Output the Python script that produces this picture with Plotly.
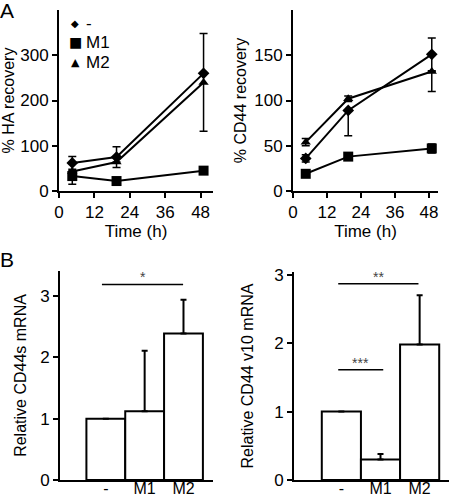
import plotly.graph_objects as go

# ---------------- data ----------------
time_h = [4.5, 19.5, 49]

ha_ctrl = [62, 75, 260]
ha_ctrl_hi = [14, 23, 0]
ha_ctrl_lo = [14, 23, 0]
ha_m1 = [33, 22, 45]
ha_m1_hi = [12, 0, 0]
ha_m1_lo = [18, 0, 0]
ha_m2 = [43, 64, 240]
ha_m2_hi = [0, 0, 108]
ha_m2_lo = [0, 0, 108]

cd_ctrl = [36, 89, 151]
cd_ctrl_hi = [4, 0, 18]
cd_ctrl_lo = [4, 28, 18]
cd_m1 = [19, 38, 47]
cd_m1_hi = [0, 3, 5]
cd_m1_lo = [0, 3, 5]
cd_m2 = [54, 102, 132]
cd_m2_hi = [4, 3, 0]
cd_m2_lo = [4, 3, 22]

groups = ["-", "M1", "M2"]
cd44s_mrna = [1.0, 1.12, 2.39]
cd44s_err = [0, 0.99, 0.55]
cd44v10_mrna = [1.0, 0.30, 1.98]
cd44v10_err = [0, 0.08, 0.72]

ha_ticks = [0, 100, 200, 300]
cd_ticks = [0, 50, 100, 150]
time_ticks = [0, 12, 24, 36, 48]
mrna_ticks = [0, 1, 2, 3]

legend_glyphs = {"-": "◆", "M1": "■", "M2": "▲"}

# ---------------- figure ----------------
W, H = 450, 498
FONT = "Arial, Liberation Sans, sans-serif"
fig = go.Figure()

symbols = {"-": "diamond", "M1": "square", "M2": "triangle-up"}
sizes = {"-": 9, "M1": 10, "M2": 9}


def add_series(x, y, hi, lo, name, xa, ya):
    fig.add_trace(go.Scatter(
        x=x, y=y, mode="lines+markers", name=name, showlegend=False,
        xaxis=xa, yaxis=ya,
        line=dict(color="black", width=2),
        marker=dict(symbol=symbols[name], size=sizes[name], color="black"),
        error_y=dict(type="data", symmetric=False, array=hi, arrayminus=lo,
                     color="black", thickness=1.5, width=4),
        cliponaxis=False,
    ))


add_series(time_h, ha_ctrl, ha_ctrl_hi, ha_ctrl_lo, "-", "x", "y")
add_series(time_h, ha_m1, ha_m1_hi, ha_m1_lo, "M1", "x", "y")
add_series(time_h, ha_m2, ha_m2_hi, ha_m2_lo, "M2", "x", "y")
add_series(time_h, cd_ctrl, cd_ctrl_hi, cd_ctrl_lo, "-", "x2", "y2")
add_series(time_h, cd_m1, cd_m1_hi, cd_m1_lo, "M1", "x2", "y2")
add_series(time_h, cd_m2, cd_m2_hi, cd_m2_lo, "M2", "x2", "y2")

# bars
for vals, err, xa, ya in [(cd44s_mrna, cd44s_err, "x3", "y3"),
                          (cd44v10_mrna, cd44v10_err, "x4", "y4")]:
    fig.add_trace(go.Bar(
        x=groups, y=vals, width=1.0, showlegend=False, xaxis=xa, yaxis=ya,
        marker=dict(color="white", line=dict(color="black", width=2)),
        error_y=dict(type="data", symmetric=False, array=err,
                     arrayminus=[0] * len(err), color="black",
                     thickness=2, width=3),
    ))


def px_x(a, b):
    return [a / W, b / W]


def px_y(top, bottom):
    return [1 - bottom / H, 1 - top / H]


axis_common = dict(showline=True, linecolor="black", linewidth=2,
                   ticks="outside", tickcolor="black", tickwidth=2, ticklen=5,
                   showgrid=False, zeroline=False, automargin=False,
                   tickfont=dict(family=FONT, size=17, color="black"))
cat_axis = {**axis_common, "ticks": "",
            "tickfont": dict(family=FONT, size=16, color="black")}
ytitle_font = dict(family=FONT, size=16, color="black")
xtitle_font = dict(family=FONT, size=17, color="black")

fig.update_layout(
    template="none",
    width=W, height=H, margin=dict(l=0, r=0, t=0, b=0, pad=0),
    plot_bgcolor="white", paper_bgcolor="white",
    font=dict(family=FONT, size=16, color="black"),
    barmode="overlay",
    showlegend=False,
    xaxis=dict(domain=px_x(59, 213), range=[0, 52.2], anchor="y",
               tickvals=time_ticks,
               title=dict(text="Time (h)", standoff=2, font=xtitle_font),
               **axis_common),
    yaxis=dict(domain=px_y(10, 191), range=[0, 400], anchor="x",
               tickvals=ha_ticks,
               title=dict(text="% HA recovery", standoff=6, font=ytitle_font),
               **axis_common),
    xaxis2=dict(domain=px_x(293, 438), range=[0, 51.2], anchor="y2",
                tickvals=time_ticks,
                title=dict(text="Time (h)", standoff=2, font=xtitle_font),
                **axis_common),
    yaxis2=dict(domain=px_y(10, 191), range=[0, 200], anchor="x2",
                tickvals=cd_ticks,
                title=dict(text="% CD44 recovery", standoff=4,
                           font=ytitle_font),
                **axis_common),
    xaxis3=dict(domain=px_x(60, 213), range=[-1.18, 2.76], anchor="y3",
                type="category", ticklabelstandoff=-7, **cat_axis),
    yaxis3=dict(domain=px_y(271, 480), range=[0, 3.41], anchor="x3",
                tickvals=mrna_ticks,
                title=dict(text="Relative CD44s mRNA", standoff=10,
                           font=ytitle_font),
                **axis_common),
    xaxis4=dict(domain=px_x(294, 449), range=[-1.21, 2.75], anchor="y4",
                type="category", ticklabelstandoff=-7, **cat_axis),
    yaxis4=dict(domain=px_y(272, 480), range=[0, 3.04], anchor="x4",
                tickvals=mrna_ticks,
                title=dict(text="Relative CD44 v10 mRNA", standoff=17,
                           font=ytitle_font),
                **axis_common),
)

# legend (inside panel A left)
leg_glyph_size = {"-": 10, "M1": 14, "M2": 11}
for i, g in enumerate(groups):
    ypx = 23 + 19.5 * i
    fig.add_annotation(xref="paper", yref="paper", x=75 / W, y=1 - ypx / H,
                       xanchor="center", yanchor="middle", showarrow=False,
                       text=legend_glyphs[g],
                       font=dict(family="DejaVu Sans", size=leg_glyph_size[g],
                                 color="black"))
    fig.add_annotation(xref="paper", yref="paper", x=84 / W, y=1 - ypx / H,
                       xanchor="left", yanchor="middle", showarrow=False,
                       text=g, font=dict(family=FONT, size=17, color="black"))

# significance bars
sig = [("x3", "y3", -0.1, 1.99, 3.19, "*"),
       ("x4", "y4", -0.08, 1.97, 2.87, "**"),
       ("x4", "y4", -0.08, 1.07, 1.61, "***")]
for xa, ya, x0, x1, yv, label in sig:
    fig.add_shape(type="line", xref=xa, yref=ya, x0=x0, x1=x1, y0=yv, y1=yv,
                  line=dict(color="black", width=1.5))
    fig.add_annotation(xref=xa, yref=ya, x=(x0 + x1) / 2, y=yv, text=label,
                       showarrow=False, yanchor="bottom", yshift=-3,
                       font=dict(family=FONT, size=14, color="#444444"))

# panel letters
for txt, ypx in [("A", 10), ("B", 259)]:
    fig.add_annotation(xref="paper", yref="paper", x=-2 / W, y=1 - ypx / H,
                       xanchor="left", yanchor="middle", text=txt,
                       showarrow=False,
                       font=dict(family=FONT, size=21, color="black"))

fig.write_html(
    "out.html",
    config={"displayModeBar": False},
    post_script="document.body.style.margin='0';document.body.style.padding='0';",
)
